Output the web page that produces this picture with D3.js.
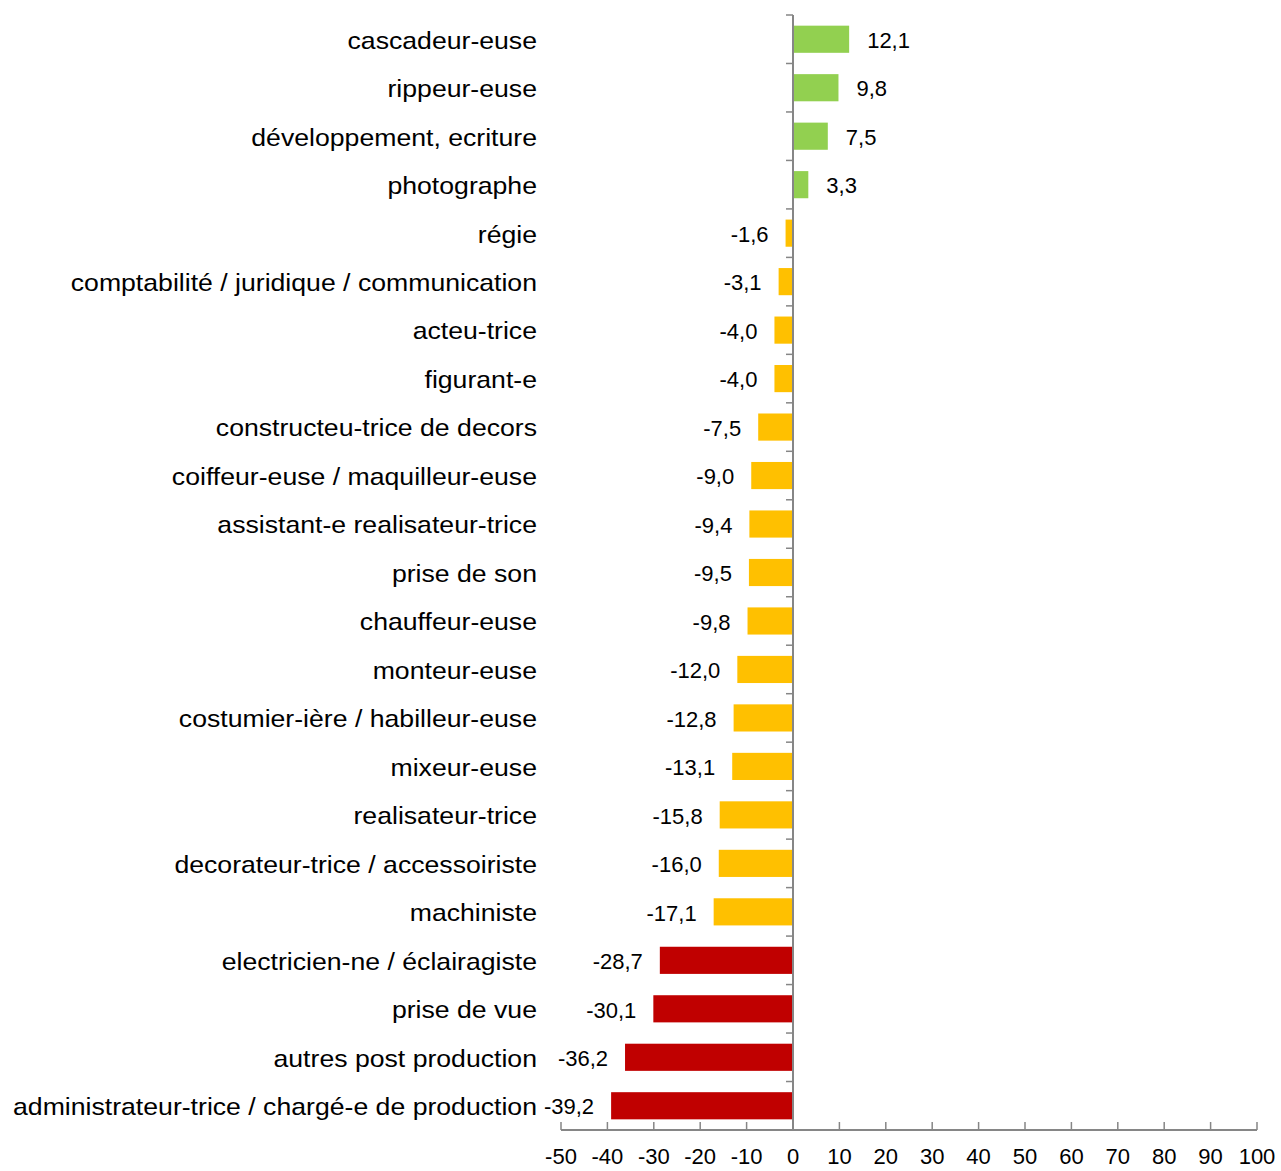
<!DOCTYPE html>
<html>
<head>
<meta charset="utf-8">
<script src="https://cdn.jsdelivr.net/npm/d3@7"></script>
<style>
  body { margin: 0; background: #fff; }
  text { font-family: "Liberation Sans", Arial, sans-serif; fill: #000; }
</style>
</head>
<body>
<svg id="chart"></svg>
<script>
const categories = [
  'cascadeur-euse', 'rippeur-euse', 'développement, ecriture', 'photographe', 'régie',
  'comptabilité / juridique / communication', 'acteu-trice', 'figurant-e',
  'constructeu-trice de decors', 'coiffeur-euse / maquilleur-euse',
  'assistant-e realisateur-trice', 'prise de son', 'chauffeur-euse', 'monteur-euse',
  'costumier-ière / habilleur-euse', 'mixeur-euse', 'realisateur-trice',
  'decorateur-trice / accessoiriste', 'machiniste', 'electricien-ne / éclairagiste',
  'prise de vue', 'autres post production', 'administrateur-trice / chargé-e de production'
];
const values = [12.1, 9.8, 7.5, 3.3, -1.6, -3.1, -4.0, -4.0, -7.5, -9.0, -9.4, -9.5, -9.8,
  -12.0, -12.8, -13.1, -15.8, -16.0, -17.1, -28.7, -30.1, -36.2, -39.2];
const xTicks = [-50, -40, -30, -20, -10, 0, 10, 20, 30, 40, 50, 60, 70, 80, 90, 100];

const width = 1281, height = 1171;
const plot = { left: 561, right: 1257, top: 15, bottom: 1130 };
const axisColor = '#868686';
const labelStretch = 1.11;

const data = categories.map((c, i) => ({ name: c, value: values[i] }));
const colorFor = v => v >= 0 ? '#92D050' : (v > -20 ? '#FFC000' : '#C00000');
const fmt = v => v.toFixed(1).replace('.', ',');

const svg = d3.select('#chart')
  .attr('width', width)
  .attr('height', height);

const x = d3.scaleLinear()
  .domain([-50, 100])
  .range([plot.left, plot.right]);

const y = d3.scaleBand()
  .domain(categories)
  .range([plot.top, plot.bottom])
  .paddingInner(0.44)
  .paddingOuter(0.22);

// bars
svg.append('g')
  .selectAll('rect')
  .data(data)
  .join('rect')
  .attr('x', d => x(Math.min(0, d.value)))
  .attr('width', d => Math.abs(x(d.value) - x(0)))
  .attr('y', d => y(d.name))
  .attr('height', y.bandwidth())
  .attr('fill', d => colorFor(d.value));

// value labels
svg.append('g')
  .selectAll('text')
  .data(data)
  .join('text')
  .attr('x', d => d.value >= 0 ? x(d.value) + 18 : x(d.value) - 17)
  .attr('y', d => y(d.name) + y.bandwidth() / 2 + 1)
  .attr('dy', '0.35em')
  .attr('text-anchor', d => d.value >= 0 ? 'start' : 'end')
  .style('font-size', '22px')
  .text(d => fmt(d.value));

// category labels (slightly stretched, like the original export)
svg.append('g')
  .attr('transform', `scale(${labelStretch},1)`)
  .selectAll('text')
  .data(data)
  .join('text')
  .attr('x', 537 / labelStretch)
  .attr('y', d => y(d.name) + y.bandwidth() / 2 + 1)
  .attr('dy', '0.35em')
  .attr('text-anchor', 'end')
  .style('font-size', '24px')
  .text(d => d.name);

// x axis
const xAxis = svg.append('g');
xAxis.append('line')
  .attr('x1', plot.left).attr('x2', plot.right)
  .attr('y1', plot.bottom).attr('y2', plot.bottom)
  .attr('stroke', axisColor).attr('stroke-width', 2);
xAxis.selectAll('line.tick')
  .data(xTicks)
  .join('line')
  .attr('class', 'tick')
  .attr('x1', d => x(d)).attr('x2', d => x(d))
  .attr('y1', plot.bottom - 8).attr('y2', plot.bottom)
  .attr('stroke', axisColor).attr('stroke-width', 1.5);
xAxis.selectAll('text')
  .data(xTicks)
  .join('text')
  .attr('x', d => x(d))
  .attr('y', plot.bottom + 26)
  .attr('dy', '0.35em')
  .attr('text-anchor', 'middle')
  .style('font-size', '22px')
  .text(d => d);

// y axis at zero with ticks between categories
const yAxis = svg.append('g');
yAxis.append('line')
  .attr('x1', x(0)).attr('x2', x(0))
  .attr('y1', plot.top).attr('y2', plot.bottom)
  .attr('stroke', axisColor).attr('stroke-width', 2);
yAxis.selectAll('line.tick')
  .data(d3.range(categories.length + 1))
  .join('line')
  .attr('class', 'tick')
  .attr('x1', x(0) - 7).attr('x2', x(0))
  .attr('y1', i => plot.top + i * y.step())
  .attr('y2', i => plot.top + i * y.step())
  .attr('stroke', axisColor).attr('stroke-width', 1.5);
</script>
</body>
</html>
